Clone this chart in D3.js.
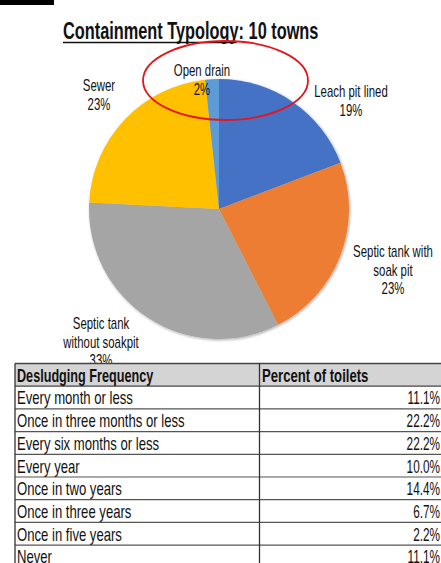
<!DOCTYPE html>
<html>
<head>
<meta charset="utf-8">
<script src="https://cdn.jsdelivr.net/npm/d3@7"></script>
<style>
  body { margin: 0; background: #fff; }
  svg { display: block; }
  text { font-family: 'Liberation Sans', Arial, sans-serif; fill: #111; }
</style>
</head>
<body>
<svg id="chart" width="441" height="563"></svg>
<script>
// pie data, clockwise from 12 o'clock
const slices = ["Leach pit lined", "Septic tank with soak pit", "Septic tank without soakpit", "Sewer", "Open drain"];
const shares = [19.2, 23.3, 33.3, 22.5, 1.7];
const shareLabels = ["19%", "23%", "33%", "23%", "2%"];
const sliceColors = ["#4472C4", "#ED7D31", "#A5A5A5", "#FFC000", "#5B9BD5"];

// desludging table
const frequencies = ["Every month or less", "Once in three months or less", "Every six months or less",
  "Every year", "Once in two years", "Once in three years", "Once in five years", "Never"];
const percents = [11.1, 22.2, 22.2, 10.0, 14.4, 6.7, 2.2, 11.1];

const svg = d3.select("#chart");
const K = 0.68; // squeeze to mimic the narrow font

function squeeze(sel, k) {
  sel.each(function() {
    const w = this.getComputedTextLength();
    d3.select(this).attr("textLength", w * k).attr("lengthAdjust", "spacingAndGlyphs");
  });
}

// little black tab top-left
svg.append("rect").attr("x", 0).attr("y", 0).attr("width", 54).attr("height", 5).attr("fill", "#000");

// title
const title = svg.append("text")
  .attr("x", 63).attr("y", 39)
  .style("font-size", "24px").style("font-weight", "bold")
  .text("Containment Typology: 10 towns");
squeeze(title, K);
const tw = title.node().getComputedTextLength() * K;
svg.append("line").attr("x1", 63).attr("x2", 63 + tw).attr("y1", 42.5).attr("y2", 42.5)
  .attr("stroke", "#111").attr("stroke-width", 1.5);

// pie
const cx = 219, cy = 209, R = 130;
const pie = d3.pie().sort(null).value(function(d) { return d; });
const arc = d3.arc().innerRadius(0).outerRadius(R);

const defs = svg.append("defs");
const f = defs.append("filter").attr("id", "shadow").attr("x", "-10%").attr("y", "-10%").attr("width", "120%").attr("height", "120%");
f.append("feGaussianBlur").attr("in", "SourceAlpha").attr("stdDeviation", 1.5).attr("result", "b");
f.append("feOffset").attr("in", "b").attr("dx", 0.5).attr("dy", 0.5).attr("result", "o");
f.append("feComponentTransfer").attr("in", "o").attr("result", "s")
  .append("feFuncA").attr("type", "linear").attr("slope", 0.35);
const fm = f.append("feMerge");
fm.append("feMergeNode").attr("in", "s");
fm.append("feMergeNode").attr("in", "SourceGraphic");

const g = svg.append("g").attr("transform", "translate(" + cx + "," + cy + ")")
  .attr("filter", "url(#shadow)");
g.selectAll("path")
  .data(pie(shares))
  .enter().append("path")
  .attr("d", arc)
  .attr("fill", function(d, i) { return sliceColors[i]; });

// data labels (lines of text, centre x, first baseline)
const labelPos = [
  { x: 351, y: 97, lines: ["Leach pit lined"] },
  { x: 393, y: 257, lines: ["Septic tank with", "soak pit"] },
  { x: 101, y: 329, lines: ["Septic tank", "without soakpit"] },
  { x: 99, y: 91, lines: ["Sewer"] },
  { x: 202, y: 76, lines: ["Open drain"] }
];
const lineH = 18.5;
labelPos.forEach(function(p, i) {
  const lines = p.lines.concat([shareLabels[i]]);
  lines.forEach(function(t, j) {
    const tx = svg.append("text")
      .attr("x", p.x).attr("y", p.y + j * lineH)
      .attr("text-anchor", "middle")
      .style("font-size", "17px")
      .text(t);
    squeeze(tx, 0.67);
  });
});

// red annotation ellipse
svg.append("ellipse")
  .attr("cx", 225.5).attr("cy", 80.5).attr("rx", 82.5).attr("ry", 39.5)
  .attr("fill", "none").attr("stroke", "#e8141b").attr("stroke-width", 1.8);

// table
const tLeft = 15, tRight = 444, colX = 259.5;
const rows = ["header"].concat(frequencies);
const y = d3.scaleBand().domain(d3.range(rows.length)).range([363.5, 363.5 + 22.7 * rows.length]);

const tbl = svg.append("g");
tbl.append("rect").attr("x", tLeft).attr("y", y(0)).attr("width", tRight - tLeft).attr("height", y.bandwidth())
  .attr("fill", "#d4d4d4");
tbl.append("rect").attr("x", tLeft).attr("y", y(1)).attr("width", tRight - tLeft).attr("height", 563 - y(1))
  .attr("fill", "#fff");

tbl.selectAll("line.h")
  .data(d3.range(rows.length))
  .enter().append("line")
  .attr("class", "h")
  .attr("x1", tLeft).attr("x2", tRight)
  .attr("y1", function(i) { return y(i); }).attr("y2", function(i) { return y(i); })
  .attr("stroke", function(i) { return i < 2 ? "#444" : "#555"; })
  .attr("stroke-width", function(i) { return i === 0 ? 1.5 : 1.2; });

[tLeft, colX].forEach(function(x) {
  tbl.append("line").attr("x1", x).attr("x2", x).attr("y1", y(0)).attr("y2", 563)
    .attr("stroke", "#333").attr("stroke-width", 1.3);
});

const head1 = tbl.append("text").attr("x", 17).attr("y", y(0) + y.bandwidth() - 4)
  .style("font-size", "19px").style("font-weight", "bold").text("Desludging Frequency");
const head2 = tbl.append("text").attr("x", 262).attr("y", y(0) + y.bandwidth() - 4)
  .style("font-size", "19px").style("font-weight", "bold").text("Percent of toilets");
squeeze(head1, 0.665);
squeeze(head2, 0.69);

const rowTxt = tbl.selectAll("text.freq")
  .data(frequencies)
  .enter().append("text")
  .attr("class", "freq")
  .attr("x", 17)
  .attr("y", function(d, i) { return y(i + 1) + y.bandwidth() - 4.5; })
  .style("font-size", "19px")
  .text(function(d) { return d; });
squeeze(rowTxt, 0.69);

const valTxt = tbl.selectAll("text.pct")
  .data(percents)
  .enter().append("text")
  .attr("class", "pct")
  .attr("x", 440)
  .attr("y", function(d, i) { return y(i + 1) + y.bandwidth() - 4.5; })
  .attr("text-anchor", "end")
  .style("font-size", "19px")
  .text(function(d) { return d3.format(".1f")(d) + "%"; });
squeeze(valTxt, 0.62);
</script>
</body>
</html>
